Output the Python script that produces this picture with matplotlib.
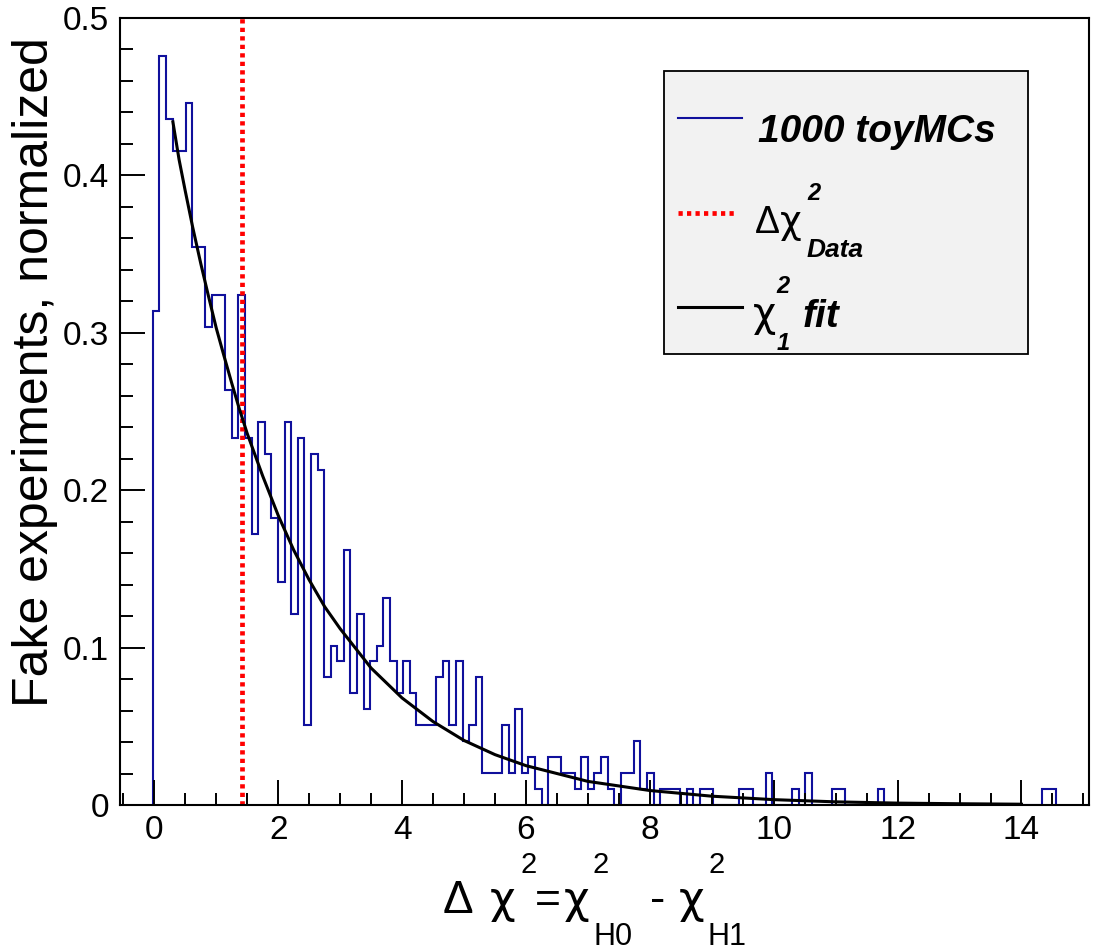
import numpy as np
import matplotlib
matplotlib.use("Agg")
import matplotlib.pyplot as plt
from matplotlib.lines import Line2D
from matplotlib.patches import Rectangle
from matplotlib.ticker import MultipleLocator, FuncFormatter

plt.rcParams['font.family'] = ['Liberation Sans', 'DejaVu Sans']

# histogramm: 1000 toy MCs (counts per bin)
bin_start = -0.025
bin_width = 0.1064
norm = 0.01013
counts = [31, 47, 43, 41, 41, 44, 35, 35, 30, 32, 32, 26, 23, 32,
          23, 17, 24, 22, 18, 14, 24, 12,
          23, 5, 22, 21, 8, 10, 9, 16, 7, 12, 6, 9, 10, 13, 9, 7, 9, 7, 5, 5, 5, 8, 9,
          5, 9, 4, 5, 8, 2, 2, 2, 5, 2, 6, 2, 3, 1, 0, 3, 3, 2, 2, 1, 3, 1, 2,
          3, 1, 0, 2, 2, 4, 1, 2, 0, 1, 1, 1, 0, 1, 0, 1, 1, 0, 0, 0, 0, 1, 1, 0, 0, 2, 0, 0, 0, 1,
          0, 2, 0, 0, 0, 1, 1, 0, 0, 0, 0, 0, 1,
          0, 0, 0, 0, 0, 0, 0, 0, 0, 0, 0, 0, 0, 0, 0, 0, 0, 0, 0, 0, 0, 0, 0, 0,
          1, 1]

# chi2 fit curve
fit_x = [0.3, 0.4, 0.5, 0.62, 0.75, 0.87, 1.0, 1.12, 1.25, 1.37, 1.5, 1.75, 2.0,
         2.25, 2.5, 2.75, 3.0, 3.5, 4.0, 4.5, 5.0, 5.5,
         6.0, 7.0, 8.0, 9.0, 10.0, 11.0, 12.0, 13.0, 14.0]
fit_y = [0.434, 0.410, 0.390, 0.367, 0.344, 0.324, 0.303, 0.286, 0.268, 0.252,
         0.236, 0.209, 0.184, 0.162, 0.143, 0.126, 0.112, 0.087,
         0.068, 0.053, 0.041, 0.032, 0.025, 0.015, 0.0092, 0.0056, 0.0034, 0.0020,
         0.0012, 0.0008, 0.0005]

# Delta chi2 of the data
delta_chi2_data = 1.42

W, H = 1094, 950
fig = plt.figure(figsize=(W / 100, H / 100), dpi=100)
ax = fig.add_axes([120 / W, 1 - 805 / H, (1089 - 120) / W, (805 - 18) / H])

edges = bin_start + bin_width * np.arange(len(counts) + 1)
heights = np.array(counts) * norm
ax.stairs(heights, edges, color='#10109c', lw=1.5, baseline=0)
ax.axvline(delta_chi2_data, color='#ff0000', lw=3.4, ls=(0, (0.9, 0.9)))
ax.plot(fit_x, fit_y, color='black', lw=2.2)

ax.set_xlim(-0.554, 15.09)
ax.set_ylim(0, 0.5)
ax.xaxis.set_major_locator(MultipleLocator(2))
ax.xaxis.set_minor_locator(MultipleLocator(0.5))
ax.yaxis.set_major_locator(MultipleLocator(0.1))
ax.yaxis.set_minor_locator(MultipleLocator(0.02))
ax.yaxis.set_major_formatter(FuncFormatter(lambda v, p: '0' if abs(v) < 1e-9 else f'{v:.1f}'))
ax.tick_params(which='both', direction='in', top=False, right=False, width=1.4, labelsize=24)
ax.tick_params(which='major', length=18)
ax.tick_params(which='minor', length=9)
ax.tick_params(axis='x', pad=7)
ax.tick_params(axis='y', pad=8)
for s in ax.spines.values():
    s.set_linewidth(1.5)


def ftext(x, y, s, size, **kw):
    fig.text(x / W, 1 - y / H, s, fontsize=size, ha='left', va='baseline', **kw)


greek = ['DejaVu Sans']

# y-achse titel
fig.text(35 / W, 1 - 372 / H, 'Fake experiments, normalized', fontsize=36,
         rotation=90, ha='center', va='center')

# x-achse titel im ROOT stil
ftext(443, 913, '\u0394', 33)
ftext(490, 913, '\u03c7', 32, family=greek)
ftext(520, 873, '2', 21)
ftext(535, 913, '=', 32)
ftext(564, 913, '\u03c7', 32, family=greek)
ftext(593, 873, '2', 21)
ftext(593, 945, 'H0', 22)
ftext(650, 913, '-', 33)
ftext(679, 913, '\u03c7', 32, family=greek)
ftext(708, 873, '2', 21)
ftext(708, 945, 'H1', 22)

# legende
fig.patches.append(Rectangle((664 / W, 1 - 354 / H), (1028 - 664) / W, (354 - 71) / H,
                             transform=fig.transFigure, facecolor='#f2f2f2',
                             edgecolor='black', lw=1.3))
fig.lines.append(Line2D([678 / W, 742 / W], [1 - 118 / H, 1 - 118 / H],
                        transform=fig.transFigure, color='#10109c', lw=1.5))
fig.lines.append(Line2D([678 / W, 737 / W], [1 - 213 / H, 1 - 213 / H],
                        transform=fig.transFigure, color='#ff0000', lw=3.4, ls=(0, (0.9, 0.9))))
fig.lines.append(Line2D([678 / W, 742 / W], [1 - 307 / H, 1 - 307 / H],
                        transform=fig.transFigure, color='black', lw=2.2))
bi = dict(fontweight='bold', fontstyle='italic')
ftext(758, 142, '1000 toyMCs', 28, **bi)
ftext(755, 233, '\u0394', 27)
ftext(780, 233, '\u03c7', 27, family=greek)
ftext(807, 200, '2', 17, **bi)
ftext(807, 257, 'Data', 19, **bi)
ftext(753, 326, '\u03c7', 29, family=greek)
ftext(776, 293, '2', 17, **bi)
ftext(777, 350, '1', 17, **bi)
ftext(803, 327, 'fit', 28, **bi)

fig.savefig('out.png', dpi=100)
